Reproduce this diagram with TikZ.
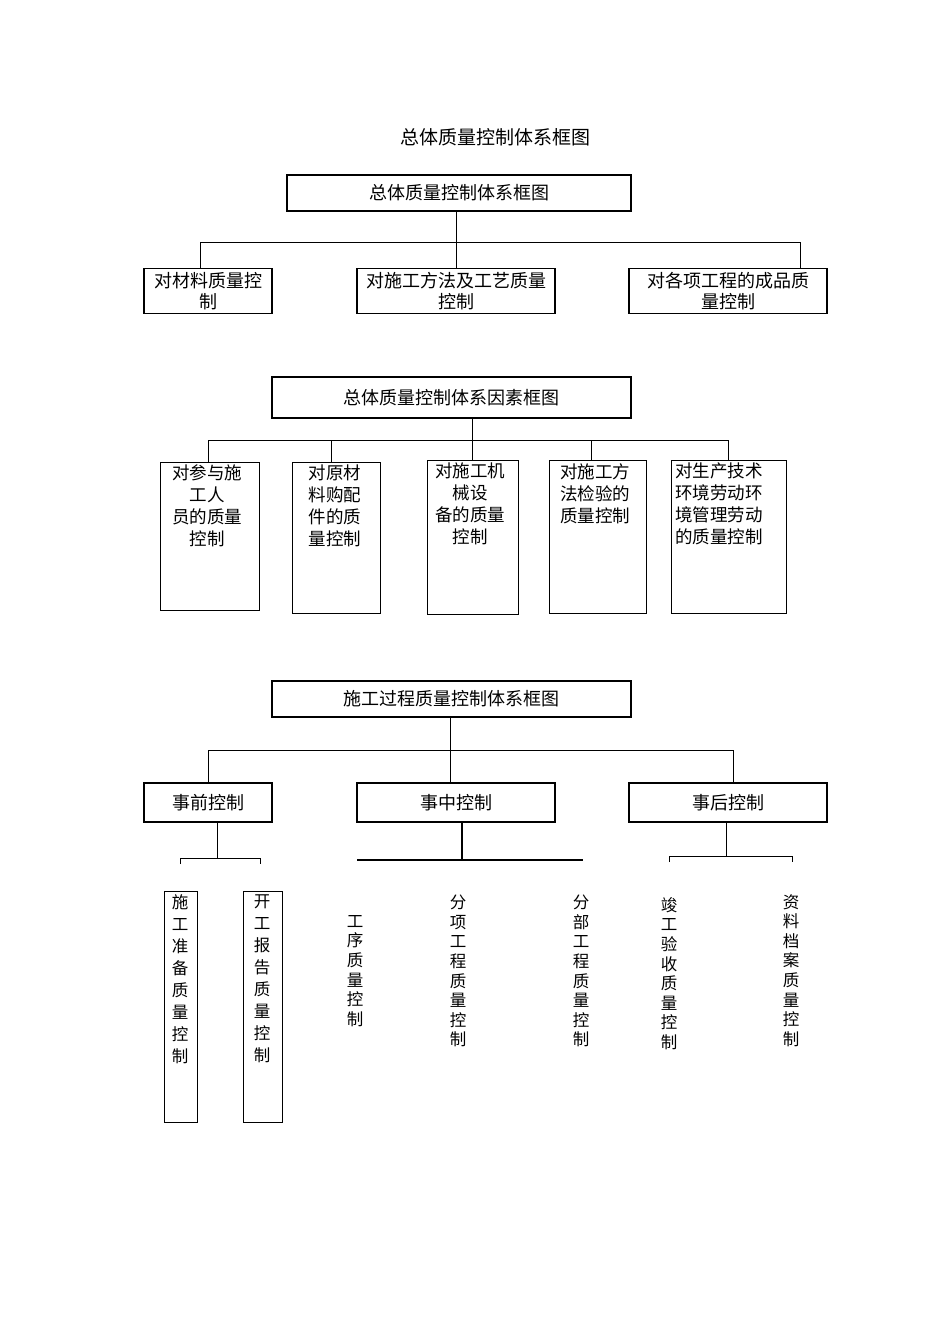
\documentclass[tikz,border=0pt]{standalone}
\usepackage{fontspec}
\setmainfont{Noto Sans CJK SC}
\begin{document}
\begin{tikzpicture}[x=1pt,y=-1pt,
  tbox/.style={draw,line width=1.6pt,inner sep=0pt,align=center,font=\fontsize{18}{21.5}\selectfont},
  rbox/.style={draw,line width=1.3pt,inner sep=0pt,align=center,font=\fontsize{18}{21.5}\selectfont},
  fbox/.style={draw,line width=1pt,inner sep=0pt},
  ftext/.style={inner sep=0pt,align=center,font=\fontsize{17.5}{22}\selectfont},
  vtext/.style={inner sep=0pt,align=center,anchor=north,font=\fontsize{16.5}{22}\selectfont},
  vtextb/.style={inner sep=0pt,align=center,anchor=north,font=\fontsize{16.5}{19.6}\selectfont},
  conn/.style={line width=1pt},
  thick conn/.style={line width=2pt}]
\useasboundingbox (0,0) rectangle (950,1344);

% heading
\node[inner sep=0pt,font=\fontsize{19}{22}\selectfont] (head) at (495,137) {总体质量控制体系框图};

% ---------- section 1 ----------
\node[tbox,minimum width=344pt,minimum height=36pt] (t1) at (459,193) {总体质量控制体系框图};
\node[rbox,minimum width=128pt,minimum height=45pt] (r1a) at (208,291) {对材料质量控\\制};
\node[rbox,minimum width=198pt,minimum height=45pt] (r1b) at (456,291) {对施工方法及工艺质量\\控制};
\node[rbox,minimum width=198pt,minimum height=45pt] (r1c) at (728,291) {对各项工程的成品质\\量控制};
\coordinate (h1l) at (200,242);
\coordinate (h1r) at (800,242);
\draw[conn] (h1l) -- (h1r);
\draw[conn] (t1.south -| r1b.north) -- (r1b.north);
\draw[conn] (h1l) -- (h1l |- r1a.north);
\draw[conn] (h1r) -- (h1r |- r1c.north);

% ---------- section 2 ----------
\node[tbox,minimum width=359pt,minimum height=41pt] (t2) at (451.5,397.5) {总体质量控制体系因素框图};
\node[fbox,minimum width=99pt,minimum height=148pt] (f1) at (209.5,536) {};
\node[fbox,minimum width=88pt,minimum height=151pt] (f2) at (336,537.5) {};
\node[fbox,minimum width=91pt,minimum height=154pt] (f3) at (472.5,537) {};
\node[fbox,minimum width=97pt,minimum height=153pt] (f4) at (597.5,536.5) {};
\node[fbox,minimum width=115pt,minimum height=153pt] (f5) at (728.5,536.5) {};
\node[ftext,anchor=north] (f1t) at (207,465) {对参与施\\工人\\员的质量\\控制};
\node[ftext,anchor=north] (f2t) at (335,465) {对原材\\料购配\\件的质\\量控制};
\node[ftext,anchor=north] (f3t) at (470,463) {对施工机\\械设\\备的质量\\控制};
\node[ftext,anchor=north] (f4t) at (595,463) {对施工方\\法检验的\\质量控制};
\node[ftext,anchor=north west,align=left] (f5t) at (675,463) {对生产技术\\环境劳动环\\境管理劳动\\的质量控制};
\coordinate (h2l) at (208,440);
\coordinate (h2r) at (728,440);
\draw[conn] (h2l) -- (h2r);
\draw[conn] (t2.south -| f3.north) -- (f3.north);
\draw[conn] (h2l) -- (h2l |- f1.north);
\coordinate (h2b) at (331,440);
\draw[conn] (h2b) -- (h2b |- f2.north);
\coordinate (h2d) at (591,440);
\draw[conn] (h2d) -- (h2d |- f4.north);
\draw[conn] (h2r) -- (h2r |- f5.north);

% ---------- section 3 ----------
\node[tbox,minimum width=359pt,minimum height=36pt] (t3) at (451.5,699) {施工过程质量控制体系框图};
\node[tbox,minimum width=128pt,minimum height=39pt] (p1) at (208,802.5) {事前控制};
\node[tbox,minimum width=198pt,minimum height=39pt] (p2) at (456,802.5) {事中控制};
\node[tbox,minimum width=198pt,minimum height=39pt] (p3) at (728,802.5) {事后控制};
\coordinate (h3l) at (208,750);
\coordinate (h3r) at (733,750);
\coordinate (h3m) at (450,750);
\draw[conn] (h3l) -- (h3r);
\draw[conn] (h3m |- t3.south) -- (h3m |- p2.north);
\draw[conn] (h3l) -- (h3l |- p1.north);
\draw[conn] (h3r) -- (h3r |- p3.north);

% under 事前控制
\coordinate (b1) at (217,858);
\coordinate (b1l) at (180,858);
\coordinate (b1r) at (260,858);
\draw[conn] (b1 |- p1.south) -- (b1);
\draw[conn] (180,864) -- (b1l) -- (b1r) -- (260,864);
% under 事中控制
\coordinate (b2) at (462,860);
\coordinate (b2l) at (357,860);
\coordinate (b2r) at (583,860);
\draw[thick conn] (b2 |- p2.south) -- (b2);
\draw[thick conn] (b2l) -- (b2r);
% under 事后控制
\coordinate (b3) at (726,856);
\coordinate (b3l) at (669,856);
\coordinate (b3r) at (792,856);
\draw[conn] (b3 |- p3.south) -- (b3);
\draw[conn] (669,862) -- (b3l) -- (b3r) -- (792,862);

% vertical items
\node[fbox,minimum width=33pt,minimum height=231pt] (v1) at (180.5,1006.5) {};
\node[fbox,minimum width=39pt,minimum height=231pt] (v2) at (262.5,1006.5) {};
\node[vtext] (v1t) at (180,894) {施\\工\\准\\备\\质\\量\\控\\制};
\node[vtext] (v2t) at (262,894) {开\\工\\报\\告\\质\\量\\控\\制};
\node[vtextb] (v3t) at (355,915) {工\\序\\质\\量\\控\\制};
\node[vtextb] (v4t) at (458,895) {分\\项\\工\\程\\质\\量\\控\\制};
\node[vtextb] (v5t) at (581,895) {分\\部\\工\\程\\质\\量\\控\\制};
\node[vtextb] (v6t) at (669,897) {竣\\工\\验\\收\\质\\量\\控\\制};
\node[vtextb] (v7t) at (791,894) {资\\料\\档\\案\\质\\量\\控\\制};
\end{tikzpicture}
\end{document}
